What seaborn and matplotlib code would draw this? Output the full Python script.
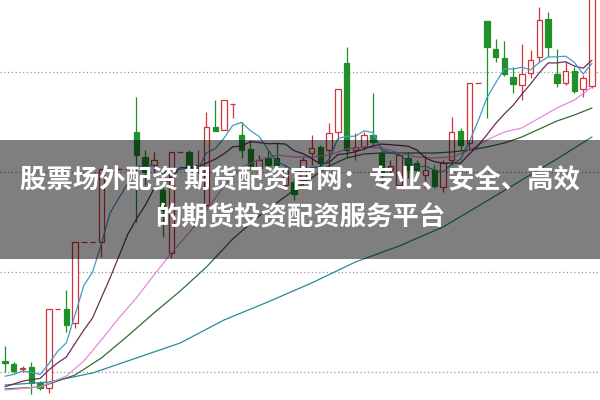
import matplotlib
matplotlib.use("Agg")
import matplotlib.pyplot as plt
import numpy as np
import pandas as pd
import seaborn as sns
from matplotlib.patches import Rectangle

# daily candles (price units)
opens = [10.11, 10.08, 10.03, 10.05, 9.89, 9.84, 10.63, 10.63, 10.49, 11.30,
         11.30, 11.30, 12.03, 12.03, 12.03, 12.40, 12.15, 12.07, 11.82, 11.19,
         12.20, 12.20, 12.04, 11.67, 12.45, 12.42, 12.68, 12.37, 12.23, 12.04,
         12.14, 12.14, 11.87, 11.90, 11.92, 12.19, 12.25, 12.22, 12.40, 13.09,
         12.22, 12.25, 12.37, 12.19, 12.02, 11.87, 12.14, 12.09, 11.97, 12.02,
         11.85, 12.12, 12.41, 12.29, 12.89, 13.51, 13.23, 13.14, 12.95, 12.87,
         12.99, 13.15, 13.53, 12.98, 12.89, 13.01, 12.83, 12.86]
highs = [10.26, 10.10, 10.06, 10.10, 9.91, 10.63, 10.63, 10.82, 11.30, 11.30,
         11.30, 12.03, 12.03, 12.03, 12.03, 12.75, 12.22, 12.20, 11.85, 12.20,
         12.20, 12.22, 12.22, 12.60, 12.72, 12.72, 12.68, 12.50, 12.32, 12.17,
         12.22, 12.29, 12.07, 11.94, 12.15, 12.37, 12.27, 12.49, 12.83, 13.25,
         12.39, 12.40, 12.79, 12.22, 12.12, 12.20, 12.20, 12.12, 12.17, 12.07,
         12.12, 12.55, 12.44, 12.89, 12.89, 13.51, 13.33, 13.31, 13.05, 13.28,
         13.22, 13.65, 13.60, 13.23, 13.10, 13.05, 12.97, 13.87]
lows = [10.00, 9.99, 10.00, 9.78, 9.82, 9.79, 10.63, 10.40, 10.44, 11.30,
        11.30, 11.15, 12.03, 12.03, 12.03, 11.50, 11.87, 12.00, 11.35, 11.14,
        12.20, 12.00, 11.99, 11.65, 12.41, 12.42, 12.54, 12.14, 12.02, 12.00,
        12.02, 12.02, 11.82, 11.72, 11.87, 12.07, 12.04, 12.07, 12.32, 12.14,
        12.12, 12.22, 12.27, 11.89, 11.97, 11.84, 11.94, 11.97, 11.84, 11.84,
        11.80, 12.07, 12.22, 12.22, 12.89, 12.54, 13.10, 12.96, 12.79, 12.72,
        12.94, 13.10, 13.15, 12.85, 12.87, 12.79, 12.75, 12.84]
closes = [10.09, 10.01, 10.04, 9.89, 9.84, 10.63, 10.63, 10.47, 11.30, 11.30,
          11.30, 12.03, 12.03, 12.03, 12.03, 12.17, 12.00, 12.12, 11.62, 12.20,
          12.20, 12.04, 12.07, 12.45, 12.41, 12.72, 12.68, 12.22, 12.04, 12.12,
          12.07, 12.07, 12.02, 11.78, 12.12, 12.24, 12.10, 12.39, 12.83, 12.22,
          12.25, 12.37, 12.30, 11.97, 12.06, 12.17, 12.02, 12.02, 12.02, 11.86,
          12.09, 12.40, 12.27, 12.89, 12.89, 13.25, 13.15, 12.98, 12.88, 12.98,
          13.12, 13.52, 13.25, 12.89, 13.01, 12.81, 12.94, 13.77]
# closes of the nine sessions before the first visible candle (for MA5 / MA10)
pre_close = [9.74, 9.76, 9.72, 9.74, 9.78, 9.92, 9.88, 9.94, 9.96]

# longer averages at a few sessions
ma20_idx = [0, 4, 7, 9, 11, 13, 15, 17, 19, 21, 23, 25, 27, 29, 31, 33, 35,
            37, 39, 41, 43, 45, 47, 49, 51, 53, 55, 57, 59, 61, 63, 65, 67]
ma20_val = [9.82, 9.85, 9.96, 10.11, 10.32, 10.54, 10.74, 10.97, 11.19, 11.39,
            11.62, 11.86, 12.05, 12.12, 12.17, 12.15, 12.15, 12.17, 12.23, 12.25,
            12.24, 12.19, 12.15, 12.14, 12.15, 12.22, 12.32, 12.40, 12.44, 12.54,
            12.64, 12.72, 12.85]
ma30_idx = [0, 4, 8, 11, 14, 17, 20, 23, 26, 29, 31, 33, 35, 37, 39, 41, 43,
            45, 47, 49, 51, 53, 55, 57, 59, 61, 63, 65, 67]
ma30_val = [9.83, 9.85, 9.97, 10.14, 10.36, 10.59, 10.81, 11.05, 11.33, 11.56,
            11.69, 11.82, 11.94, 12.06, 12.14, 12.18, 12.19, 12.19, 12.19, 12.19,
            12.20, 12.22, 12.25, 12.29, 12.35, 12.43, 12.51, 12.57, 12.64]
ma60_idx = [0, 5, 10, 15, 20, 25, 30, 35, 40, 45, 50, 55, 59, 63, 67]
ma60_val = [9.87, 9.90, 9.99, 10.14, 10.29, 10.52, 10.70, 10.89, 11.10, 11.26,
            11.45, 11.71, 11.92, 12.13, 12.35]

grid_levels = [10, 11, 12, 13]
title_lines = ["股票场外配资 期货配资官网：专业、安全、高效", "的期货投资配资服务平台"]

RED = "#d2343c"
GREEN = "#1f902a"

sns.set_theme(style="white")
plt.rcParams["font.family"] = ["Noto Sans CJK SC", "DejaVu Sans"]

o, h, l, c = (np.array(v) for v in (opens, highs, lows, closes))
x = np.arange(len(c))
up = c > o
down = c < o
flat = c == o

full = pd.Series(pre_close + closes)
n_pre = len(pre_close)
ma5 = full.rolling(5).mean().to_numpy()[n_pre:]
ma10 = full.rolling(10).mean().to_numpy()[n_pre:]

fig = plt.figure(figsize=(6, 4), dpi=100)
ax = fig.add_axes([0, 0, 1, 1])
ax.set_axis_off()

for g in grid_levels:
    ax.axhline(g, color="#9a9a9a", lw=0.9, ls=(0, (1, 2)), zorder=1)

wick_col = np.where(down, GREEN, RED)
ax.vlines(x, l, h, colors=wick_col, lw=0.9, zorder=2)
ax.bar(x[up], (c - o)[up], bottom=o[up], width=0.62, facecolor="white",
       edgecolor=RED, lw=0.9, zorder=3)
ax.bar(x[down], (o - c)[down], bottom=c[down], width=0.62, color=GREEN,
       edgecolor=GREEN, lw=0.9, zorder=3)
ax.hlines(o[flat], x[flat] - 0.31, x[flat] + 0.31, colors=RED, lw=0.9, zorder=3)

lines = [
    (ma60_idx, ma60_val, "#2a8b96"),
    (ma30_idx, ma30_val, "#2e6e35"),
    (ma20_idx, ma20_val, "#e38bdc"),
    (x, ma10, "#6b2f5e"),
    (x, ma5, "#3d9ec4"),
]
for xs, ys, col in lines:
    sns.lineplot(x=xs, y=ys, color=col, lw=0.9, ax=ax, zorder=4)

ax.set_xlim(-0.57, 67.92)
ax.set_ylim(9.72, 13.72)

fig.add_artist(Rectangle((0, 0.3525), 1, 0.2975, transform=fig.transFigure,
                         facecolor="black", alpha=0.5, lw=0, zorder=10))
fig.text(0.5, 1 - 181 / 400, title_lines[0], ha="center", va="center",
         color="white", fontsize=19, fontweight="bold", zorder=11)
fig.text(0.5, 1 - 218 / 400, title_lines[1], ha="center", va="center",
         color="white", fontsize=19, fontweight="bold", zorder=11)

fig.savefig("out.png", dpi=100)
